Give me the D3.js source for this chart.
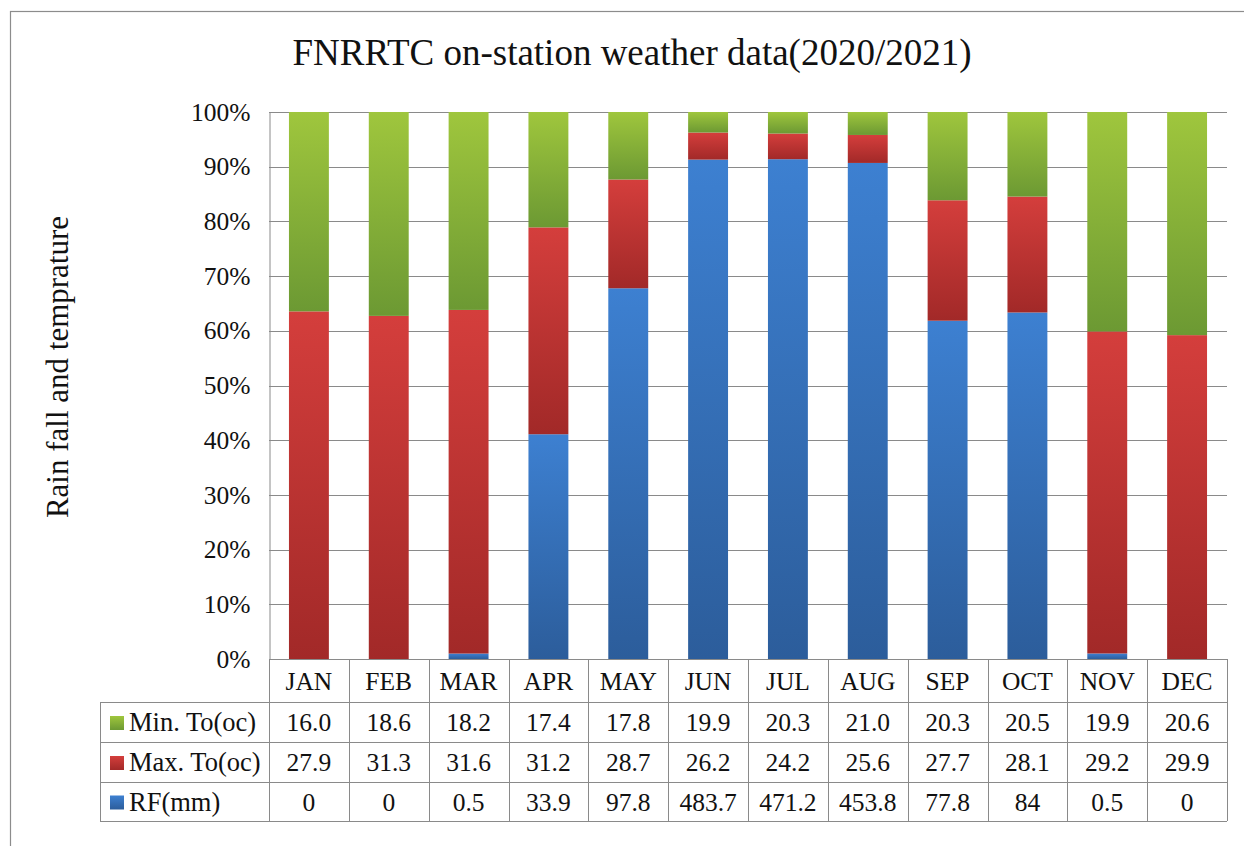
<!DOCTYPE html>
<html>
<head>
<meta charset="utf-8">
<script src="https://cdn.jsdelivr.net/npm/d3@7"></script>
<style>
  html, body { margin: 0; padding: 0; background: #fff; }
  svg { display: block; }
  svg text { font-family: "Liberation Serif", "DejaVu Serif", serif !important; fill: #111; }
</style>
</head>
<body>
<svg id="chart" width="1244" height="846"></svg>
<script>
const months = ["JAN","FEB","MAR","APR","MAY","JUN","JUL","AUG","SEP","OCT","NOV","DEC"];
const minTemp = [16.0,18.6,18.2,17.4,17.8,19.9,20.3,21.0,20.3,20.5,19.9,20.6];
const maxTemp = [27.9,31.3,31.6,31.2,28.7,26.2,24.2,25.6,27.7,28.1,29.2,29.9];
const rainfall = [0,0,0.5,33.9,97.8,483.7,471.2,453.8,77.8,84,0.5,0];
const yTicks = [0,0.1,0.2,0.3,0.4,0.5,0.6,0.7,0.8,0.9,1.0];
const seriesNames = ["Min. To(oc)","Max. To(oc)","RF(mm)"];
const titleText = "FNRRTC on-station weather data(2020/2021)";
const yTitle = "Rain fall and temprature";

(function () {
const FONT = "'Liberation Serif', 'DejaVu Serif', serif";
const svg = d3.select("#chart");
const W = 1244, H = 846;
const pLeft = 269, pRight = 1227, pTop = 112, pBottom = 659;
const legendLeft = 100;
const rowH = [43, 40, 40, 39]; // header, min, max, rf

// gradients
const defs = svg.append("defs");
const grads = {
  rf: ["#3d80d1", "#2c5d9b"],
  max: ["#d43e3c", "#a22928"],
  min: ["#9fc63d", "#6c9933"]
};
Object.entries(grads).forEach(([k, c]) => {
  const g = defs.append("linearGradient").attr("id", "g-" + k)
    .attr("x1", 0).attr("y1", 0).attr("x2", 0).attr("y2", 1);
  g.append("stop").attr("offset", "0%").attr("stop-color", c[0]);
  g.append("stop").attr("offset", "100%").attr("stop-color", c[1]);
});

// outer border
svg.append("rect").attr("x", 10.5).attr("y", 11.5).attr("width", W + 20).attr("height", H + 20)
  .attr("fill", "none").attr("stroke", "#8c8c8c").attr("stroke-width", 1.2);

// title
svg.append("text").attr("x", 632).attr("y", 65).attr("text-anchor", "middle")
  .attr("font-family", FONT).style("font-size", "37px").text(titleText);

// scales
const x = d3.scaleBand().domain(months).range([pLeft, pRight]).paddingInner(0.5).paddingOuter(0.25);
const y = d3.scaleLinear().domain([0, 1]).range([pBottom, pTop]);

// gridlines
svg.append("g").selectAll("line").data(yTicks.filter(d => d > 0)).join("line")
  .attr("x1", pLeft).attr("x2", pRight)
  .attr("y1", d => Math.round(y(d)) + 0.5).attr("y2", d => Math.round(y(d)) + 0.5)
  .attr("stroke", "#8a8a8a").attr("stroke-width", 1);

// y axis
const yAxis = d3.axisLeft(y).tickValues(yTicks).tickFormat(d3.format(".0%")).tickSize(0).tickPadding(19);
const ya = svg.append("g").attr("transform", `translate(${pLeft + 0.5},0)`).call(yAxis)
  .attr("font-family", FONT);
ya.select(".domain").attr("stroke", "#8a8a8a");
ya.selectAll("text").style("font-size", "25.5px").attr("fill", "#111");

// y title
svg.append("text").attr("transform", `translate(68,367) rotate(-90)`).attr("text-anchor", "middle")
  .attr("font-family", FONT).style("font-size", "31px").text(yTitle);

// stacked data
const data = months.map((m, i) => ({ month: m, rf: rainfall[i], max: maxTemp[i], min: minTemp[i] }));
const keys = ["rf", "max", "min"];
const stack = d3.stack().keys(keys).offset(d3.stackOffsetExpand);
const series = stack(data);

svg.append("g").selectAll("g").data(series).join("g")
  .attr("fill", d => `url(#g-${d.key})`)
  .selectAll("rect").data(d => d).join("rect")
  .attr("x", d => x(d.data.month))
  .attr("width", x.bandwidth())
  .attr("y", d => y(d[1]))
  .attr("height", d => Math.max(0, y(d[0]) - y(d[1])));

// data table
const tbl = svg.append("g").attr("stroke", "#8a8a8a").attr("stroke-width", 1);
const y0 = pBottom, y1 = y0 + rowH[0], y2 = y1 + rowH[1], y3 = y2 + rowH[2], y4 = y3 + rowH[3];
const hl = (xa, xb, yy) => tbl.append("line").attr("x1", xa).attr("x2", xb).attr("y1", yy + 0.5).attr("y2", yy + 0.5);
hl(pLeft, pRight, y0);
hl(legendLeft, pRight, y1);
hl(legendLeft, pRight, y2);
hl(legendLeft, pRight, y3);
hl(legendLeft, pRight, y4);
const colEdges = months.map(m => x(m) - (x.step() - x.bandwidth()) / 2).concat([pRight]);
colEdges.forEach(cx => {
  tbl.append("line").attr("x1", Math.round(cx) + 0.5).attr("x2", Math.round(cx) + 0.5).attr("y1", y0).attr("y2", y4);
});
tbl.append("line").attr("x1", legendLeft + 0.5).attr("x2", legendLeft + 0.5).attr("y1", y1).attr("y2", y4);

const cx = m => x(m) + x.bandwidth() / 2;
const txt = svg.append("g").attr("font-family", FONT).style("font-size", "25.5px");
months.forEach(m => {
  txt.append("text").attr("x", cx(m)).attr("y", 690).attr("text-anchor", "middle").text(m);
});
const rows = [
  { name: seriesNames[0], key: "min", vals: minTemp.map(v => v.toFixed(1)), y: (y1 + y2) / 2 },
  { name: seriesNames[1], key: "max", vals: maxTemp.map(v => v.toFixed(1)), y: (y2 + y3) / 2 },
  { name: seriesNames[2], key: "rf", vals: rainfall.map(v => String(v)), y: (y3 + y4) / 2 }
];
rows.forEach(r => {
  svg.append("rect").attr("x", 110).attr("y", r.y - 6).attr("width", 14).attr("height", 14)
    .attr("fill", `url(#g-${r.key})`);
  txt.append("text").attr("x", 129).attr("y", r.y + 9).style("font-size", "26.5px").text(r.name);
  months.forEach((m, i) => {
    txt.append("text").attr("x", cx(m)).attr("y", r.y + 9).attr("text-anchor", "middle").text(r.vals[i]);
  });
});
})();
</script>
</body>
</html>
